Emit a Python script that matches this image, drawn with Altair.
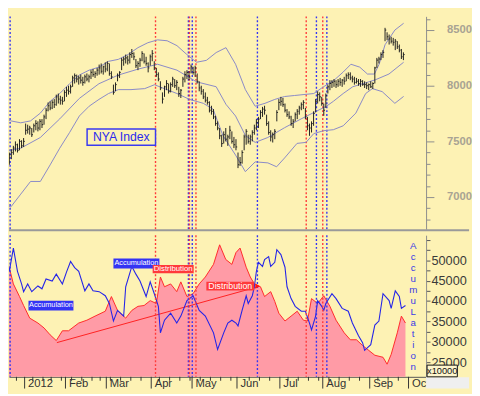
import altair as alt
import pandas as pd

FONT = "Liberation Sans"
BG = "#fdf2b4"

# ---------------- price bars (trading-day index, 13 = 19 Dec 2011) ----------------
day_start = 13
bar_low = [
    7290, 7340, 7380, 7410, 7400, 7420, 7440, 7450,
    7560, 7570, 7560, 7540, 7580, 7600, 7590, 7600, 7620, 7650,
    7700, 7770, 7780, 7790, 7800, 7820, 7840, 7830, 7830, 7860,
    7900, 7920, 7930, 7990, 8020, 8030, 8010, 8020, 8000, 8020,
    8040, 8030, 8060, 8080, 8070, 8090, 8100, 8110, 8100, 8120,
    8130, 8090, 8060, 7920, 7950, 8040, 8070, 8140, 8180, 8200,
    8190, 8200, 8250, 8230, 8160, 8140, 8170, 8220, 8200, 8180,
    8120, 8180, 8220, 8140, 8080, 8040, 7960, 7840, 7900, 7960,
    7930, 7940, 7990, 7980, 7960, 7900, 7890, 7990, 8030, 8060,
    8050, 8110, 8100, 8080, 8020, 7950, 7920, 7880, 7850, 7830,
    7760, 7740, 7700, 7640, 7600, 7520, 7450, 7480, 7500, 7460,
    7520, 7480, 7440, 7420, 7260, 7280, 7300, 7420, 7470, 7480,
    7470, 7500, 7560, 7600, 7620, 7700, 7720, 7740, 7640, 7560,
    7500, 7490, 7520, 7680, 7780, 7820, 7810, 7760, 7720, 7700,
    7640, 7620, 7680, 7700, 7740, 7780, 7790, 7700, 7600, 7550,
    7580, 7640, 7760, 7840, 7860, 7820, 7730, 7800, 7930, 7960,
    7980, 7990, 7980, 7990, 8000, 7990, 8010, 8040, 8060, 8050,
    8030, 8010, 8020, 8000, 7990, 8000, 7980, 7970, 7960, 7980,
    7970, 8020, 8160, 8200, 8230, 8250, 8400, 8410, 8370, 8380,
    8360, 8320, 8330, 8300, 8240, 8230]
bar_high = [
    7400, 7430, 7460, 7500, 7480, 7520, 7510, 7530,
    7660, 7650, 7640, 7620, 7660, 7690, 7680, 7700, 7700, 7740,
    7800, 7850, 7860, 7870, 7880, 7920, 7930, 7910, 7900, 7960,
    7990, 8000, 8010, 8090, 8110, 8100, 8090, 8100, 8080, 8100,
    8110, 8100, 8140, 8150, 8130, 8160, 8190, 8200, 8180, 8210,
    8220, 8200, 8130, 8010, 8030, 8110, 8130, 8250, 8260, 8280,
    8270, 8300, 8330, 8300, 8240, 8220, 8250, 8310, 8290, 8260,
    8210, 8280, 8320, 8220, 8160, 8120, 8040, 7940, 8000, 8050,
    8020, 8030, 8080, 8060, 8050, 7990, 7970, 8080, 8130, 8140,
    8130, 8190, 8170, 8180, 8110, 8040, 8000, 7970, 7940, 7900,
    7860, 7820, 7790, 7730, 7680, 7620, 7560, 7590, 7620, 7560,
    7640, 7590, 7540, 7520, 7400, 7360, 7420, 7560, 7610, 7560,
    7560, 7600, 7650, 7700, 7720, 7780, 7810, 7820, 7740, 7680,
    7600, 7580, 7610, 7780, 7880, 7900, 7890, 7840, 7790, 7770,
    7730, 7700, 7760, 7790, 7820, 7850, 7870, 7800, 7720, 7660,
    7680, 7770, 7880, 7950, 7940, 7900, 7840, 7930, 8010, 8050,
    8050, 8060, 8050, 8060, 8070, 8060, 8080, 8110, 8120, 8120,
    8090, 8080, 8070, 8060, 8060, 8050, 8040, 8030, 8020, 8040,
    8030, 8170, 8250, 8260, 8300, 8320, 8520, 8480, 8460, 8440,
    8430, 8420, 8400, 8370, 8330, 8300]
bar_close = [
    7380, 7400, 7440, 7470, 7420, 7500, 7460, 7500,
    7600, 7610, 7620, 7560, 7640, 7660, 7620, 7680, 7650, 7720,
    7780, 7820, 7800, 7850, 7830, 7900, 7880, 7870, 7860, 7940,
    7960, 7950, 7990, 8070, 8090, 8060, 8070, 8050, 8030, 8080,
    8060, 8080, 8120, 8100, 8110, 8140, 8160, 8130, 8170, 8150,
    8200, 8110, 8080, 7940, 8010, 8090, 8120, 8230, 8240, 8250,
    8230, 8280, 8290, 8260, 8180, 8200, 8230, 8290, 8220, 8200,
    8160, 8260, 8290, 8160, 8100, 8060, 7980, 7880, 7990, 8020,
    7950, 8010, 8060, 8000, 8030, 7930, 7960, 8060, 8100, 8120,
    8080, 8170, 8120, 8160, 8040, 7980, 7950, 7900, 7870, 7850,
    7780, 7770, 7720, 7660, 7620, 7550, 7480, 7560, 7520, 7540,
    7600, 7500, 7470, 7450, 7290, 7310, 7400, 7540, 7590, 7500,
    7540, 7580, 7620, 7670, 7700, 7760, 7790, 7780, 7660, 7580,
    7540, 7560, 7590, 7760, 7850, 7860, 7830, 7780, 7740, 7720,
    7660, 7680, 7740, 7770, 7800, 7830, 7850, 7720, 7640, 7620,
    7660, 7750, 7860, 7920, 7900, 7840, 7780, 7910, 7990, 8020,
    8030, 8040, 8010, 8040, 8030, 8050, 8040, 8090, 8100, 8070,
    8060, 8030, 8040, 8020, 8040, 8010, 8010, 8000, 8010, 7990,
    8020, 8160, 8230, 8240, 8280, 8300, 8500, 8440, 8420, 8400,
    8390, 8400, 8350, 8320, 8260, 8280]

# ---------------- Bollinger bands ----------------
ub_day = [9, 13.8, 18.6, 23.4, 28.2, 33, 37.7, 42.5, 47.3, 52.1, 56.9, 61.6, 66.4, 71.2, 76, 80.8,
          85.6, 90.3, 95.1, 99.9, 104.7, 109.5, 114.3, 119.1, 123.8, 128.6, 133.4, 138.2, 143, 147.8,
          152.6, 157.3, 162.1, 166.9, 171.7, 176.5, 180.3, 184.6, 188.4, 191.8, 194.1, 197, 201.8, 206.1]
ub_val = [7702, 7684, 7667, 7684, 7754, 7860, 7930, 8018, 8096, 8140, 8167, 8219, 8237, 8281, 8342, 8386,
          8412, 8404, 8360, 8281, 8211, 8228, 8298, 8342, 8193, 7965, 7816, 7842, 7877, 7903,
          7912, 7921, 7930, 7991, 8044, 8123, 8193, 8167, 8105, 8105, 8193, 8368, 8500, 8561]
mb_day = [9, 18.6, 28.2, 37.7, 47.3, 56.9, 66.4, 76, 85.6, 95.1, 104.7, 114.3, 119.1, 123.8, 128.6,
          133.4, 139.6, 147.8, 155.9, 163.5, 168.3, 171.7, 176.5, 181.2, 187.5, 192.2, 198.9, 206.1]
mb_val = [7403, 7439, 7535, 7702, 7886, 8018, 8096, 8149, 8193, 8140, 8035, 7991, 7833, 7728, 7553,
          7491, 7535, 7623, 7702, 7772, 7816, 7860, 7930, 7991, 8026, 8053, 8105, 8211]
lb_day = [9, 13.8, 18.6, 23.4, 28.2, 33, 37.7, 42.5, 47.3, 52.1, 56.9, 61.6, 66.4, 72.6, 79.3, 84.1,
          88.9, 95.1, 101.3, 108, 112.8, 117.6, 123.8, 128.6, 133.4, 139.6, 143.9, 147.8, 153.9, 158.3,
          162.1, 166.9, 171.7, 176.5, 182.7, 187.5, 190.8, 195.6, 201.8, 206.1]
lb_val = [6939, 6912, 7026, 7140, 7140, 7289, 7439, 7579, 7728, 7816, 7877, 7930, 7965, 7965, 7974, 8009,
          7974, 7930, 7877, 7842, 7789, 7553, 7377, 7228, 7316, 7307, 7272, 7351, 7482, 7491,
          7570, 7596, 7605, 7640, 7754, 7930, 7974, 7947, 7842, 7904]

# ---------------- lower panel: Distribution (area) and Accumulation (line) ----------------
dist_day = [9, 11, 13, 15, 18, 20, 23, 27, 30, 33, 36, 39, 42, 47, 51, 55, 60, 63, 66, 70,
            73, 76, 79, 82, 85, 87, 89, 92, 95, 97, 100, 103, 106, 109, 113, 116, 119, 122, 124, 126,
            129, 131, 133, 136, 138, 141, 143, 145, 148, 151, 154, 157, 159, 161, 164, 167, 170, 173, 177, 180,
            183, 186, 189, 192, 196, 198, 200, 203, 205, 207]
dist_val = [48600, 50200, 48200, 44200, 41100, 38900, 35800, 34600, 33400, 31700, 30300, 32700, 32700, 34600,
            35300, 36300, 37500, 41100, 37700, 35800, 37700, 38700, 38900, 40100, 39400, 45900, 43500, 44200,
            42300, 44700, 41100, 41800, 44200, 45900, 49000, 53800, 50200, 49000, 51900, 53000, 48300, 45900,
            44200, 43500, 41100, 42300, 39900, 37000, 35100, 36300, 37500, 35300, 35100, 40600, 39400, 41300,
            38700, 35300, 32200, 30500, 30500, 29100, 27900, 26700, 26200, 24500, 26900, 32200, 36300, 34600]
acc_day = [9, 10, 12, 13, 15, 17, 19, 20, 22, 24, 27, 29, 31, 34, 36, 39, 41, 43, 45, 47,
           50, 52, 54, 57, 60, 62, 64, 66, 69, 70, 73, 75, 77, 80, 82, 84, 86, 87, 89, 92,
           95, 97, 100, 103, 106, 109, 113, 115, 118, 120, 122, 124, 125, 127, 129, 130, 132, 133, 134, 135,
           137, 138, 140, 141, 143, 144, 146, 148, 149, 151, 153, 156, 158, 160, 161, 163, 164, 166, 167, 168,
           171, 173, 176, 179, 181, 184, 186, 187, 190, 192, 194, 196, 199, 200, 202, 204, 205, 207]
acc_val = [42300, 48200, 49700, 47300, 53000, 47300, 44200, 42300, 44200, 42300, 43700, 43000, 45400, 44900,
           46600, 44200, 47100, 49700, 48200, 47300, 42500, 44200, 42500, 42300, 41300, 39400, 35100, 37700,
           36300, 43500, 48500, 46600, 44900, 41100, 44700, 41800, 38700, 32200, 35300, 37000, 34600, 36300,
           40100, 41300, 37700, 36300, 32200, 28100, 32200, 34600, 35300, 34600, 33900, 37700, 41300, 39400,
           41300, 43500, 47300, 49500, 48500, 50200, 50900, 48500, 49500, 52600, 51400, 48300, 43500, 40600,
           38700, 37500, 37500, 34600, 32900, 36300, 40100, 38700, 37700, 39400, 41800, 40600, 38200, 37500,
           34600, 31500, 29800, 27900, 29300, 34100, 35100, 41800, 40100, 38200, 42500, 41100, 38200, 38900]

trend_day = [36.3, 134.4]
trend_val = [29800, 43450]

# signal lines
vline_day = [13.4, 84.6, 100.7, 101.2, 102.6, 104.4, 134.5, 158.4, 163.4, 166.5, 168.5]
vline_kind = ["acc", "dist", "acc", "dist", "acc", "dist", "acc", "dist", "acc", "dist", "acc"]

# axis ticks / labels
month_pos = [20.5, 40.5, 60.5, 82.5, 102.5, 124.5, 145.5, 166.5, 189.5, 208.5]
month_lab = ["2012", "Feb", "Mar", "Apr", "May", "Jun", "Jul", "Aug", "Sep", "Oct"]
week_pos = [16.5, 24.5, 29.5, 33.5, 38.5, 43.5, 48.5, 53.5, 57.5, 62.5, 67.5, 72.5, 77.5, 86.5, 91.5,
            96.5, 101.5, 106.5, 111.5, 116.5, 121.5, 130.5, 135.5, 140.5, 149.5, 154.5, 159.5, 164.5,
            169.5, 174.5, 179.5, 184.5, 193.5, 198.5, 203.5]
top_ticks = list(range(6800, 8700, 100))
bot_ticks = list(range(22500, 57500, 2500))

# annotations
nya_box = {"d1": 51.1, "d2": 84.6, "v1": 7465, "v2": 7611, "t": "NYA Index"}
ann_text = ["Accumulation", "Accumulation", "Distribution", "Distribution"]
ann_kind = ["acc", "acc", "dist", "dist"]
ann_size = [7.5, 7.5, 8, 9]
ann_d1 = [64.0, 22.4, 83.2, 109.5]
ann_d2 = [86.5, 44.4, 103.3, 132.9]
ann_v1 = [48010, 37700, 46810, 42570]
ann_v2 = [50410, 40100, 48850, 44730]
arrow_day = [134.6]
arrow_val = [43650]
side_letters = ["A", "c", "c", "u", "m", "u", "L", "a", "t", "i", "o", "n"]

# ---------------- layout ----------------
W, H1, H2 = 427, 218, 145
xscale = alt.Scale(domain=[12.84, 217.1], nice=False, zero=False)
ytop = alt.Scale(domain=[6710, 8623], nice=False, zero=False)
ybot = alt.Scale(domain=[21400, 56160], nice=False, zero=False)
kind_scale = alt.Scale(domain=["acc", "dist"], range=["#3434f4", "#ff3a3a"])

axis_top = alt.Axis(orient="right", values=top_ticks, title=None, grid=False,
                    domainColor="#8c8c8c", tickColor="#8c8c8c",
                    tickSize={"condition": {"test": "datum.value % 500 === 0", "value": 8}, "value": 4},
                    labelExpr="datum.value % 500 === 0 ? format(datum.value, 'd') : ''",
                    labelFont=FONT, labelFontSize=11.5, labelFontWeight="bold", labelColor="#a8a393",
                    labelPadding=13, labelOverlap=False, labelFlush=False)
axis_bot = alt.Axis(orient="right", values=bot_ticks, title=None, grid=False,
                    domainColor="#8c8c8c", tickColor="#555555", tickSize=4,
                    labelExpr="(datum.value % 5000 === 0 && datum.value >= 25000 && datum.value <= 50000) ? format(datum.value, 'd') : ''",
                    labelFont=FONT, labelFontSize=13, labelColor="#3a3a3a",
                    labelPadding=1, labelOverlap=False, labelFlush=False)
lab_expr = ("[" + ",".join("'%s'" % m for m in month_lab) + "][indexof(["
            + ",".join(str(p) for p in month_pos) + "], datum.value)]")
axis_x = alt.Axis(orient="bottom", values=month_pos, title=None, grid=False, ticks=False,
                  domainColor="#555555", labelExpr=lab_expr, labelAlign="left", labelBaseline="top",
                  labelOffset=3, labelPadding=1, labelFont=FONT, labelFontSize=11.5,
                  labelColor="#333333", labelFlush=False, labelOverlap=False)


def xt(f):
    return alt.X(f + ":Q", scale=xscale, axis=None)


def yt(f):
    return alt.Y(f + ":Q", scale=ytop, axis=axis_top)


def xl(f):
    return alt.X(f + ":Q", scale=xscale, axis=axis_x)


def yl(f):
    return alt.Y(f + ":Q", scale=ybot, axis=axis_bot)


# ---------------- upper panel ----------------
price_df = pd.DataFrame({"day": list(range(day_start, day_start + len(bar_close))),
                         "low": bar_low, "high": bar_high, "close": bar_close})
vl_df = pd.DataFrame({"day": vline_day, "kind": vline_kind})

vl_top = alt.Chart(vl_df).mark_rule(strokeDash=[2, 2], strokeWidth=1.4).encode(
    x=xt("day"), y=alt.value(0), y2=alt.value(H1),
    color=alt.Color("kind:N", scale=kind_scale, legend=None))


def band(days, vals):
    return alt.Chart(pd.DataFrame({"day": days, "price": vals})).mark_line(
        color="#8888c8", strokeWidth=1, clip=True).encode(x=xt("day"), y=yt("price"))


bars = alt.Chart(price_df).mark_rule(color="#202020", strokeWidth=1, clip=True).encode(
    x=xt("day"), y=yt("low"), y2="high:Q")
closes = alt.Chart(price_df).transform_calculate(day2="datum.day + 0.6").mark_rule(
    color="#202020", strokeWidth=1, clip=True).encode(x=xt("day"), x2="day2:Q", y=yt("close"))

nya_df = pd.DataFrame([nya_box])
nya_rect = alt.Chart(nya_df).mark_rect(fill=BG, stroke="#3a3af0", strokeWidth=1.5).encode(
    x=xt("d1"), x2="d2:Q", y=yt("v1"), y2="v2:Q")
nya_txt = alt.Chart(nya_df).transform_calculate(
    dc="(datum.d1 + datum.d2) / 2", vc="(datum.v1 + datum.v2) / 2").mark_text(
    font=FONT, fontSize=12.5, color="#2a2aee").encode(x=xt("dc"), y=yt("vc"), text="t:N")

sep = alt.Chart(pd.DataFrame({"k": [0]})).mark_rule(color="#9a9a9a", strokeWidth=2).encode(
    x=alt.value(0), x2=alt.value(471), y=alt.value(H1 + 1))

upper = alt.layer(vl_top, band(ub_day, ub_val), band(mb_day, mb_val), band(lb_day, lb_val),
                  bars, closes, nya_rect, nya_txt, sep).properties(width=W, height=H1)

# ---------------- lower panel ----------------
dist_df = pd.DataFrame({"day": dist_day, "val": dist_val})
acc_df = pd.DataFrame({"day": acc_day, "val": acc_val})

area = alt.Chart(dist_df).mark_area(color="#ff9ba6", clip=True).encode(x=xl("day"), y=yl("val"))
edge = alt.Chart(dist_df).mark_line(color="#ff2a2a", strokeWidth=1, clip=True).encode(
    x=xl("day"), y=yl("val"))
trend = alt.Chart(pd.DataFrame({"day": trend_day, "val": trend_val})).mark_line(
    color="#ff2020", strokeWidth=1).encode(x=xl("day"), y=yl("val"))
acc = alt.Chart(acc_df).mark_line(color="#2424e8", strokeWidth=1.1, clip=True).encode(
    x=xl("day"), y=yl("val"))
vl_bot = alt.Chart(vl_df).mark_rule(strokeDash=[2, 2], strokeWidth=1.4).encode(
    x=xl("day"), y=alt.value(0), y2=alt.value(H2),
    color=alt.Color("kind:N", scale=kind_scale, legend=None))

ann_df = pd.DataFrame({"t": ann_text, "kind": ann_kind, "size": ann_size, "d1": ann_d1, "d2": ann_d2,
                       "v1": ann_v1, "v2": ann_v2})
ann_scale = alt.Scale(domain=["acc", "dist"], range=["#1e1ee6", "#ff1414"])
ann_rect = alt.Chart(ann_df).mark_rect().encode(
    x=xl("d1"), x2="d2:Q", y=yl("v1"), y2="v2:Q",
    color=alt.Color("kind:N", scale=ann_scale, legend=None))
ann_txt = alt.Chart(ann_df).transform_calculate(
    dc="(datum.d1 + datum.d2) / 2", vc="(datum.v1 + datum.v2) / 2").mark_text(
    font=FONT, color="white").encode(
    x=xl("dc"), y=yl("vc"), text="t:N",
    size=alt.Size("size:Q", scale=None, legend=None))
arrow = alt.Chart(pd.DataFrame({"day": arrow_day, "val": arrow_val})).mark_point(
    shape="triangle-right", filled=True, color="#ff1414", size=30, opacity=1).encode(
    x=xl("day"), y=yl("val"))

side_df = pd.DataFrame({"day": [210.8], "val": [54700], "t": ["\n".join(side_letters)]})
side_txt = alt.Chart(side_df).mark_text(
    font=FONT, fontSize=10, color="#3a3ae6", lineBreak="\n", lineHeight=11.3,
    baseline="top", align="center").encode(x=xl("day"), y=yl("val"), text="t:N")

mt_df = pd.DataFrame({"day": month_pos})
wk_df = pd.DataFrame({"day": week_pos})
mticks = alt.Chart(mt_df).mark_rule(color="#333333", strokeWidth=1).encode(
    x=xl("day"), y=alt.value(H2), y2=alt.value(H2 + 12))
wticks = alt.Chart(wk_df).mark_rule(color="#333333", strokeWidth=1).encode(
    x=xl("day"), y=alt.value(H2), y2=alt.value(H2 + 4))

corner = alt.Chart(pd.DataFrame({"k": [0]})).mark_rect(color="#efefef").encode(
    x=alt.value(W), x2=alt.value(471), y=alt.value(H2 + 0.5), y2=alt.value(H2 + 12))
xbox = alt.Chart(pd.DataFrame({"k": [0]})).mark_rect(fill="#fdf5cc", stroke="#111111", strokeWidth=1).encode(
    x=alt.value(W + 1), x2=alt.value(W + 32), y=alt.value(H2 - 12), y2=alt.value(H2))
xtxt = alt.Chart(pd.DataFrame({"t": ["x10000"]})).mark_text(
    font=FONT, fontSize=9.5, color="#111111").encode(
    x=alt.value(W + 16.5), y=alt.value(H2 - 5.5), text="t:N")

lower = alt.layer(area, edge, trend, acc, vl_bot, arrow, ann_rect, ann_txt, side_txt,
                  mticks, wticks, corner, xbox, xtxt).properties(width=W, height=H2)

chart = alt.vconcat(upper, lower, spacing=2).properties(
    background=BG, padding=0).configure_view(stroke=None)

chart.save("out.html", embed_options={"renderer": "svg", "actions": False})
